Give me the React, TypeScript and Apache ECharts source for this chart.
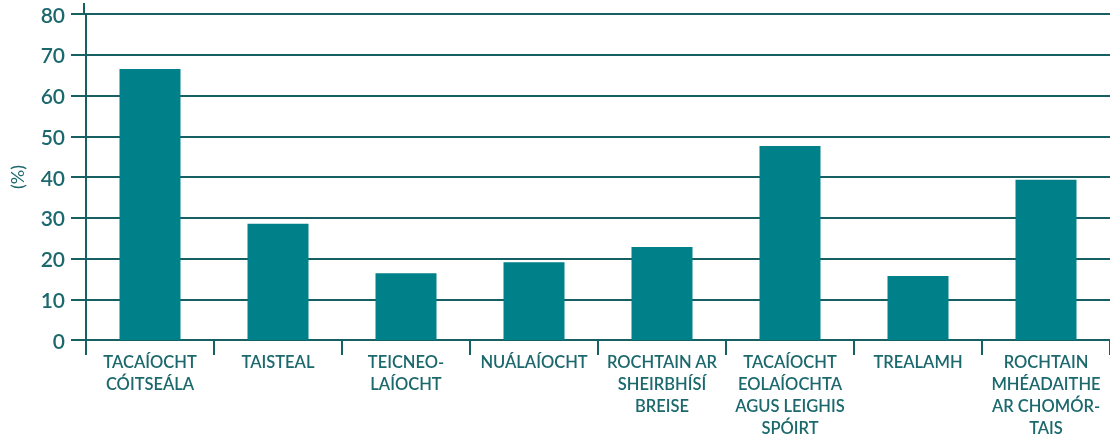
import React, { useEffect, useRef } from "react";
import * as echarts from "echarts";

const categories = [
  "TACAÍOCHT\nCÓITSEÁLA",
  "TAISTEAL",
  "TEICNEO-\nLAÍOCHT",
  "NUÁLAÍOCHT",
  "ROCHTAIN AR\nSHEIRBHÍSÍ\nBREISE",
  "TACAÍOCHT\nEOLAÍOCHTA\nAGUS LEIGHIS\nSPÓIRT",
  "TREALAMH",
  "ROCHTAIN\nMHÉADAITHE\nAR CHOMÓR-\nTAIS",
];
const values = [66.5, 28.5, 16.4, 19.1, 22.8, 47.6, 15.7, 39.3];
const yAxisName = "(%)";

const TEXT = "#1b686d";
const LINE = "#165f63";
const BAR = "#00818a";

export default function App() {
  const ref = useRef<HTMLDivElement>(null);
  useEffect(() => {
    if (!ref.current) return;
    const chart = echarts.init(ref.current, undefined, { renderer: "svg" });
    chart.setOption({
      animation: false,
      grid: { left: 84, right: -6, top: 14, bottom: 101, containLabel: false },
      xAxis: {
        type: "category",
        data: categories,
        boundaryGap: true,
        axisLine: { lineStyle: { color: LINE, width: 2 } },
        axisTick: { show: true, length: 15, lineStyle: { color: LINE, width: 2 } },
        axisLabel: {
          color: TEXT,
          fontFamily: "Lato",
          fontSize: 16.5,
          fontWeight: 600,
          lineHeight: 22,
          margin: 11,
          interval: 0,
          align: "center",
        },
      },
      yAxis: {
        type: "value",
        min: 0,
        max: 80,
        interval: 10,
        name: yAxisName,
        nameLocation: "middle",
        nameGap: 60,
        nameTextStyle: { color: TEXT, fontFamily: "Lato", fontSize: 18 },
        axisLine: { show: true, lineStyle: { color: LINE, width: 2 } },
        axisTick: { show: true, length: 15, lineStyle: { color: LINE, width: 2 } },
        axisLabel: { color: TEXT, fontFamily: "Lato", fontSize: 21, fontWeight: 600, margin: 21 },
        splitLine: { show: true, lineStyle: { color: LINE, width: 2 } },
      },
      graphic: [
        {
          type: "line",
          shape: { x1: 84, y1: 3, x2: 84, y2: 15 },
          style: { stroke: LINE, lineWidth: 2 },
        },
      ],
      series: [
        {
          type: "bar",
          data: values,
          barWidth: 61,
          itemStyle: { color: BAR },
        },
      ],
    });
    return () => chart.dispose();
  }, []);
  return (
    <div
      ref={ref}
      style={{ position: "fixed", left: 0, top: 0, width: 1110, height: 441 }}
    />
  );
}
